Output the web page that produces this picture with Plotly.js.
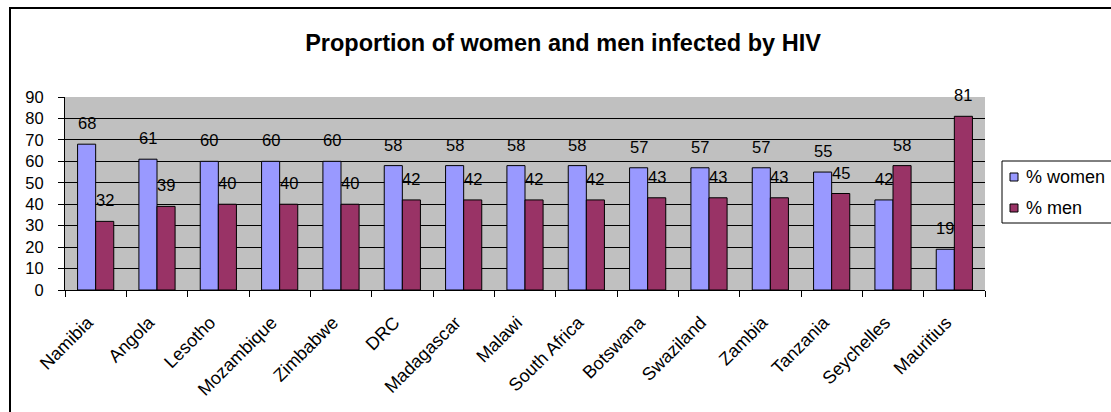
<!DOCTYPE html>
<html>
<head>
<meta charset="utf-8">
<script src="https://cdn.plot.ly/plotly-3.0.1.min.js"></script>
<style>
  html, body { margin: 0; padding: 0; background: #fff; overflow: hidden; }
  #wrap { position: relative; width: 1111px; height: 412px; overflow: hidden; }
  #frame { position: absolute; left: 9px; top: 7px; width: 1200px; height: 500px;
           border: 2px solid #000; box-sizing: border-box; }
  #chart { position: absolute; left: 0; top: 0; width: 1111px; height: 412px; }
</style>
</head>
<body>
<div id="wrap">
  <div id="frame"></div>
  <div id="chart"></div>
</div>
<script>
// HIV infection share by sex, per country
const countries = ["Namibia", "Angola", "Lesotho", "Mozambique", "Zimbabwe", "DRC",
  "Madagascar", "Malawi", "South Africa", "Botswana", "Swaziland", "Zambia",
  "Tanzania", "Seychelles", "Mauritius"];
const women = [68, 61, 60, 60, 60, 58, 58, 58, 58, 57, 57, 57, 55, 42, 19];
const men   = [32, 39, 40, 40, 40, 42, 42, 42, 42, 43, 43, 43, 45, 58, 81];
const seriesNames = ["% women", "% men"];
const yTicks = [0, 10, 20, 30, 40, 50, 60, 70, 80, 90];

const W = 1111, H = 412;
const M = { l: 65, r: 126, t: 97, b: 122 };
const PW = W - M.l - M.r, PH = H - M.t - M.b;
const px2x = p => (p - M.l) / PW;
const px2y = p => (H - M.b - p) / PH;

const FONT = "Liberation Sans, Arial, sans-serif";
const WOMEN_C = "#9999FF", MEN_C = "#993366";
const BAR_SHIFT = 9; // half a bar width, in px
const LABEL_SIZE = 16.5;

const traces = [
  { type: "bar", name: seriesNames[0], x: countries, y: women,
    marker: { color: WOMEN_C, line: { color: "#000", width: 1 } },
    showlegend: false, hoverinfo: "skip" },
  { type: "bar", name: seriesNames[1], x: countries, y: men,
    marker: { color: MEN_C, line: { color: "#000", width: 1 } },
    showlegend: false, hoverinfo: "skip" }
];

// value labels above each bar
const annotations = [];
countries.forEach((c, i) => {
  annotations.push({ x: c, y: women[i], xref: "x", yref: "y", text: String(women[i]),
    showarrow: false, xshift: -BAR_SHIFT, yshift: 21, yanchor: "middle",
    font: { family: FONT, size: LABEL_SIZE, color: "#000" } });
  annotations.push({ x: c, y: men[i], xref: "x", yref: "y", text: String(men[i]),
    showarrow: false, xshift: BAR_SHIFT, yshift: 21, yanchor: "middle",
    font: { family: FONT, size: LABEL_SIZE, color: "#000" } });
});

// legend box drawn by hand
const shapes = [
  { type: "rect", xref: "paper", yref: "paper", layer: "above",
    x0: px2x(1002), x1: px2x(1140), y0: px2y(161), y1: px2y(223),
    line: { color: "#000", width: 1 }, fillcolor: "#fff" }
];
[[seriesNames[0], WOMEN_C, 177], [seriesNames[1], MEN_C, 208]].forEach(([name, col, cy]) => {
  shapes.push({ type: "rect", xref: "paper", yref: "paper", layer: "above",
    x0: px2x(1010), x1: px2x(1018), y0: px2y(cy + 4), y1: px2y(cy - 4),
    line: { color: "#000", width: 1 }, fillcolor: col });
  annotations.push({ xref: "paper", yref: "paper", x: px2x(1024), y: px2y(cy),
    xanchor: "left", yanchor: "middle", text: name, showarrow: false,
    font: { family: FONT, size: 18, color: "#000" } });
});

const layout = {
  width: W, height: H,
  margin: M,
  paper_bgcolor: "rgba(0,0,0,0)",
  plot_bgcolor: "#C0C0C0",
  bargap: 0.41, bargroupgap: 0,
  barmode: "group",
  showlegend: false,
  title: { text: "Proportion of women and men infected by HIV",
    x: 563 / W, xanchor: "center", xref: "container",
    y: 1 - 43 / H, yanchor: "middle", yref: "container",
    font: { family: FONT, size: 23.5, weight: "bold", color: "#000" } },
  xaxis: { type: "category", tickson: "boundaries", ticks: "outside", ticklen: 6,
    tickcolor: "#000", showline: true, linecolor: "#000", linewidth: 1,
    tickangle: -45, showgrid: false,
    ticklabelstandoff: 14, ticklabelshift: -8,
    tickfont: { family: FONT, size: 18, color: "#000" } },
  yaxis: { range: [0, 90], tickvals: yTicks, ticks: "outside", ticklen: 6,
    tickcolor: "#000", showline: true, linecolor: "#000", linewidth: 1,
    showgrid: true, gridcolor: "#000", gridwidth: 1, zeroline: false,
    ticklabelstandoff: 11,
    tickfont: { family: FONT, size: LABEL_SIZE, color: "#000" } },
  annotations: annotations,
  shapes: shapes
};

Plotly.newPlot("chart", traces, layout, { staticPlot: true, displayModeBar: false });
</script>
</body>
</html>
